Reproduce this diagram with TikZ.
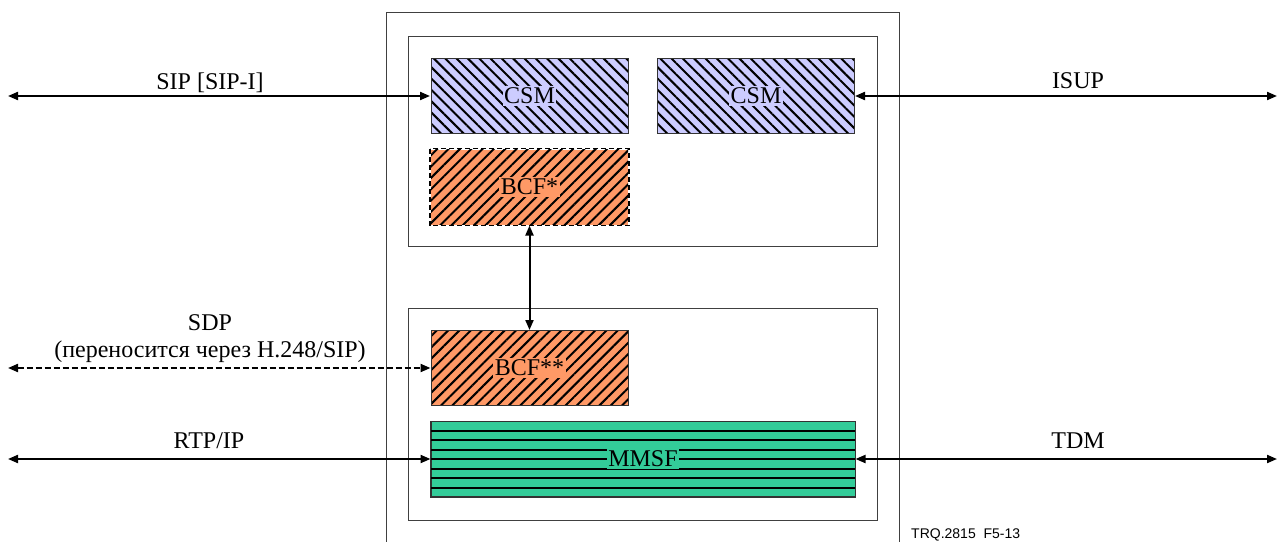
\documentclass[tikz,border=0pt]{standalone}
\usepackage{fontspec}
\setmainfont{LiberationSerif}[Extension=.ttf,UprightFont=*-Regular,BoldFont=*-Bold]
\newfontfamily\labfont{LiberationSerif}[Extension=.ttf,UprightFont=*-Regular]
\newfontfamily\trqfont{Liberation Sans}
\usetikzlibrary{arrows.meta,patterns.meta}
\definecolor{csmcol}{RGB}{204,204,255}
\definecolor{bcfcol}{RGB}{255,153,102}
\definecolor{mmsfcol}{RGB}{51,204,153}
\tikzset{
 frame/.style={draw=black!75,line width=1pt},
 fbox/.style={draw=black!80,line width=1pt,inner sep=0pt,minimum height=75pt},
 csmbox/.style={fbox,minimum width=197pt,preaction={fill=csmcol},pattern={Lines[angle=-45,distance=8pt,line width=2pt]}},
 bcfbox/.style={fbox,minimum width=197pt,preaction={fill=bcfcol},pattern={Lines[angle=45,distance=8pt,line width=2pt]}},
 mmsfbox/.style={fbox,minimum width=424pt,fill=mmsfcol},
 lab/.style={fill=#1,inner sep=1.5pt},
 sig/.style={line width=2pt,{Triangle[length=10pt,width=8pt]}-{Triangle[length=10pt,width=8pt]}},
}

\begin{document}
\begin{tikzpicture}[x=1pt,y=-1pt,font=\labfont\fontsize{24}{28}\selectfont]
 \useasboundingbox (0,0) rectangle (1279,541);
 \draw[frame] (386,545)--(386,12)--(899,12)--(899,545); %外枠
 \draw[frame] (408,36) rectangle (877,246); %上の枠
 \draw[frame] (408,308) rectangle (877,520); %下の枠

 \node[csmbox] (csmL) at (529.5,96) {}; %CSM左
 \node[csmbox] (csmR) at (756,96) {}; %CSM右
 \node[bcfbox,draw=none] (bcfA) at (529.5,187) {}; %BCF*
 \draw[line width=1.5pt,dash pattern=on 5pt off 3pt] (bcfA.north west) rectangle (bcfA.south east);
 \node[bcfbox] (bcfB) at (529.5,368) {}; %BCF**
 \node[mmsfbox] (mmsf) at (643,459) {}; %MMSF
 \foreach \k in {1,...,7}
  \draw[line width=2pt] (431,{421+9.5*\k})--(855,{421+9.5*\k});
 \draw[fbox] (mmsf.north west) rectangle (mmsf.south east);

 \node[lab=csmcol] (csmLt) at (csmL) {CSM};
 \node[lab=csmcol] (csmRt) at (csmR) {CSM};
 \node[lab=bcfcol] (bcfAt) at (bcfA) {BCF*};
 \node[lab=bcfcol] (bcfBt) at (bcfB) {BCF**};
 \node[lab=mmsfcol] (mmsft) at (mmsf) {MMSF};

 \coordinate (sipL) at (8,96); %左端
 \coordinate (isupR) at (1277,96); %右端
 \coordinate (sdpL) at (8,368);
 \coordinate (rtpL) at (8,459);
 \coordinate (tdmR) at (1277,459);
 \draw[sig] (sipL)--(csmL.west);
 \draw[sig] (csmR.east)--(isupR);
 \draw[sig] (bcfA.south)--(bcfB.north);
 \draw[sig,dash pattern=on 6pt off 3pt] (sdpL)--(bcfB.west);
 \draw[sig] (rtpL)--(mmsf.west);
 \draw[sig] (mmsf.east)--(tdmR);

 \node[anchor=base] (sipT) at (210,89) {SIP [SIP-I]};
 \node[anchor=base] (isupT) at (1078,88) {ISUP};
 \node[anchor=base] (sdpT) at (210,330) {SDP};
 \node[anchor=base] (sdpT2) at (210,357) {(переносится через H.248/SIP)};
 \node[anchor=base] (rtpT) at (209,448) {RTP/IP};
 \node[anchor=base] (tdmT) at (1078,448) {TDM};
 \node[anchor=base west,inner sep=0pt,font=\trqfont\fontsize{14}{16}\selectfont] (trq) at (911,538) {TRQ.2815\ \ F5-13};
\end{tikzpicture}
\end{document}
